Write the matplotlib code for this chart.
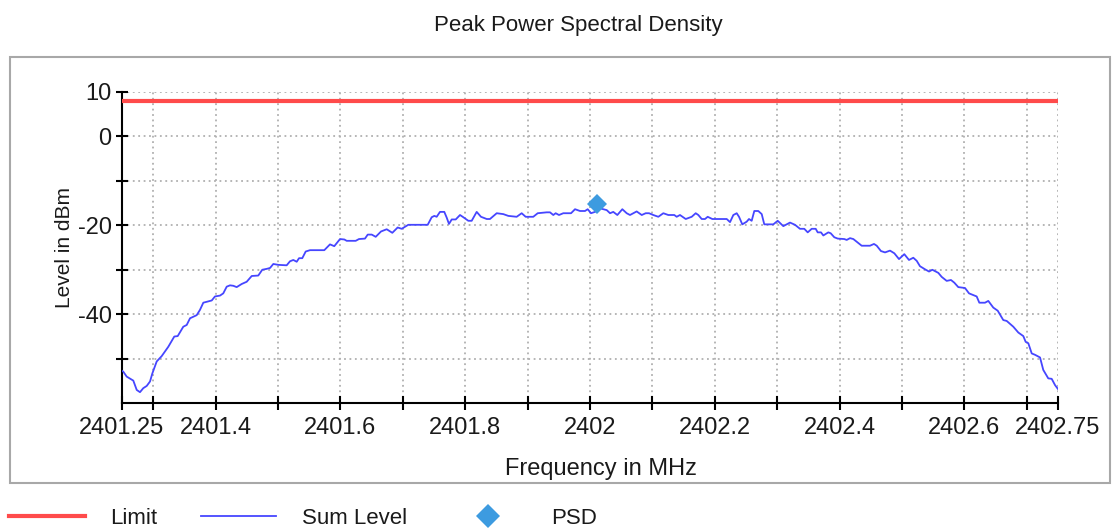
"""
Peak Power Spectral Density plot (limit line, summed level trace, PSD peak marker).
"""

import matplotlib
matplotlib.use("Agg")
import matplotlib.pyplot as plt
from matplotlib.lines import Line2D
from matplotlib.patches import Rectangle

# --- data ---
freq_mhz = [
    2401.2500, 2401.2521, 2401.2575, 2401.2681, 2401.2736, 2401.2788, 2401.2841,
    2401.2896, 2401.2949, 2401.2986, 2401.3056, 2401.3136, 2401.3242, 2401.3338,
    2401.3393, 2401.3482, 2401.3537, 2401.3590, 2401.3697, 2401.3750, 2401.3803,
    2401.3883, 2401.3938, 2401.3990, 2401.4071, 2401.4123, 2401.4178, 2401.4231,
    2401.4284, 2401.4338, 2401.4418, 2401.4498, 2401.4579, 2401.4684, 2401.4748,
    2401.4819, 2401.4872, 2401.4925, 2401.5005, 2401.5139, 2401.5192, 2401.5245,
    2401.5300, 2401.5337, 2401.5389, 2401.5444, 2401.5513, 2401.5742, 2401.5833,
    2401.5902, 2401.5994, 2401.6063, 2401.6101, 2401.6245, 2401.6298, 2401.6394,
    2401.6438, 2401.6502, 2401.6566, 2401.6651, 2401.6742, 2401.6832, 2401.6918,
    2401.6982, 2401.7088, 2401.7399, 2401.7463, 2401.7505, 2401.7543, 2401.7596,
    2401.7665, 2401.7704, 2401.7740, 2401.7784, 2401.7848, 2401.7917, 2401.7970,
    2401.8050, 2401.8104, 2401.8184, 2401.8253, 2401.8345, 2401.8397, 2401.8505,
    2401.8611, 2401.8691, 2401.8825, 2401.8905, 2401.8969, 2401.9091, 2401.9162,
    2401.9306, 2401.9359, 2401.9412, 2401.9450, 2401.9503, 2401.9572, 2401.9696,
    2401.9760, 2401.9840, 2401.9920, 2401.9963, 2402.0016, 2402.0080, 2402.0160,
    2402.0268, 2402.0321, 2402.0373, 2402.0438, 2402.0518, 2402.0588, 2402.0641,
    2402.0748, 2402.0829, 2402.0893, 2402.0946, 2402.1014, 2402.1095, 2402.1175,
    2402.1255, 2402.1351, 2402.1389, 2402.1442, 2402.1534, 2402.1630, 2402.1694,
    2402.1736, 2402.1790, 2402.1843, 2402.1886, 2402.1960, 2402.2191, 2402.2244,
    2402.2297, 2402.2351, 2402.2388, 2402.2441, 2402.2511, 2402.2548, 2402.2591,
    2402.2633, 2402.2697, 2402.2752, 2402.2793, 2402.2938, 2402.3008, 2402.3098,
    2402.3205, 2402.3285, 2402.3365, 2402.3434, 2402.3489, 2402.3553, 2402.3617,
    2402.3649, 2402.3702, 2402.3739, 2402.3819, 2402.3857, 2402.3915, 2402.3970,
    2402.4075, 2402.4114, 2402.4167, 2402.4220, 2402.4354, 2402.4487, 2402.4551,
    2402.4595, 2402.4663, 2402.4728, 2402.4808, 2402.4877, 2402.4952, 2402.5037,
    2402.5112, 2402.5181, 2402.5236, 2402.5288, 2402.5369, 2402.5433, 2402.5486,
    2402.5582, 2402.5636, 2402.5716, 2402.5785, 2402.5838, 2402.5902, 2402.6010,
    2402.6074, 2402.6197, 2402.6239, 2402.6330, 2402.6383, 2402.6463, 2402.6534,
    2402.6623, 2402.6678, 2402.6784, 2402.6864, 2402.6944, 2402.6982, 2402.7024,
    2402.7079, 2402.7131, 2402.7212, 2402.7264, 2402.7344, 2402.7399, 2402.7452,
    2402.7500,
]
sum_level_dbm = [
    -52.7, -52.9, -54.0, -54.9, -57.0, -57.5, -56.6,
    -56.1, -55.1, -53.3, -50.6, -49.4, -47.3, -45.0,
    -44.9, -42.8, -42.4, -40.9, -40.2, -39.0, -37.4,
    -37.1, -36.9, -36.0, -35.8, -35.3, -33.8, -33.5,
    -33.6, -33.9, -33.2, -32.7, -31.4, -31.3, -30.0,
    -29.8, -29.6, -28.7, -28.9, -29.0, -28.1, -27.8,
    -28.2, -27.4, -27.4, -25.9, -25.6, -25.6, -24.3,
    -24.7, -23.1, -23.2, -23.5, -23.5, -23.1, -23.0,
    -22.1, -22.1, -22.6, -21.4, -20.9, -21.7, -20.5,
    -20.8, -19.9, -19.9, -18.2, -17.9, -18.1, -17.0,
    -17.0, -18.3, -19.7, -18.7, -18.7, -17.7, -18.2,
    -19.0, -19.0, -17.0, -18.1, -18.6, -18.6, -17.3,
    -17.5, -17.9, -18.1, -17.3, -18.1, -18.1, -17.3,
    -17.1, -17.1, -17.7, -17.3, -17.7, -17.3, -17.3,
    -16.4, -16.8, -16.8, -16.4, -17.3, -17.0, -16.2,
    -16.6, -17.3, -17.0, -17.7, -16.4, -17.3, -17.7,
    -16.9, -17.7, -17.3, -17.3, -17.7, -18.1, -17.3,
    -17.7, -17.7, -18.1, -17.7, -18.6, -18.1, -17.3,
    -17.7, -18.6, -18.6, -18.1, -18.6, -18.6, -19.3,
    -17.7, -17.3, -18.1, -19.8, -19.2, -18.6, -19.0,
    -16.8, -16.8, -17.5, -19.8, -19.8, -19.0, -20.2,
    -19.4, -19.9, -20.8, -20.8, -21.6, -20.8, -20.8,
    -21.6, -21.6, -22.3, -21.6, -21.8, -22.7, -23.0,
    -23.1, -23.3, -22.9, -23.1, -24.6, -24.6, -24.2,
    -24.6, -25.8, -26.1, -25.7, -26.3, -27.6, -26.5,
    -27.8, -27.3, -28.0, -29.2, -29.9, -30.4, -30.0,
    -30.7, -31.6, -32.5, -32.3, -32.9, -33.9, -34.1,
    -35.3, -36.0, -37.4, -37.4, -37.0, -38.5, -39.2,
    -41.3, -41.5, -42.8, -44.1, -44.9, -46.2, -46.5,
    -48.8, -49.1, -49.7, -52.5, -54.4, -54.5, -55.9,
    -56.8,
]
limit_dbm = 8.0
psd_freq = 2402.011
psd_dbm = -15.2

x_ticks = [2401.25, 2401.3, 2401.4, 2401.5, 2401.6, 2401.7, 2401.8, 2401.9, 2402.0,
           2402.1, 2402.2, 2402.3, 2402.4, 2402.5, 2402.6, 2402.7, 2402.75]
x_tick_labels = ["2401.25", "", "2401.4", "", "2401.6", "", "2401.8", "", "2402",
                 "", "2402.2", "", "2402.4", "", "2402.6", "", "2402.75"]
y_ticks = [10, 0, -10, -20, -30, -40, -50]
y_tick_labels = ["10", "0", "", "-20", "", "-40", ""]

LIMIT_COLOR = "#ff4b4b"
SUM_COLOR = "#4646ff"
PSD_COLOR = "#3d9be0"
GRID_COLOR = "#b0b0b0"
TEXT_COLOR = "#1a1a1a"

plt.rcParams["font.family"] = ["Liberation Sans", "DejaVu Sans"]

W, H = 1115, 530
fig = plt.figure(figsize=(W / 100, H / 100), dpi=100)

# grey frame around the plot block
fig.patches.append(Rectangle((9.5 / W, 1 - 483 / H), (1110 - 9.5) / W, (483 - 57) / H,
                             transform=fig.transFigure, fill=False,
                             edgecolor="#a8a8a8", linewidth=1.5))

ax = fig.add_axes([122 / W, 1 - 403.3 / H, 936 / W, (403.3 - 91.7) / H])

ax.axhline(limit_dbm, color=LIMIT_COLOR, linewidth=3.0, zorder=3)
ax.plot(freq_mhz, sum_level_dbm, color=SUM_COLOR, linewidth=1.3, zorder=4)
ax.plot([psd_freq], [psd_dbm], linestyle="none", marker="D", markersize=10.5,
        color=PSD_COLOR, markeredgewidth=0, zorder=5)

ax.set_xlim(2401.25, 2402.75)
ax.set_ylim(-60, 10)

ax.set_xticks(x_ticks)
ax.set_xticklabels(x_tick_labels)
ax.set_yticks(y_ticks)
ax.set_yticklabels(y_tick_labels)

ax.grid(True, color=GRID_COLOR, linestyle=(0, (1, 2)), linewidth=1.3)
ax.set_axisbelow(True)

for side in ("top", "right"):
    ax.spines[side].set_visible(False)
for side in ("left", "bottom"):
    ax.spines[side].set_linewidth(1.5)
    ax.spines[side].set_color("black")

ax.tick_params(axis="x", direction="inout", length=10, width=1.5, pad=5,
               labelsize=17, labelcolor=TEXT_COLOR)
ax.tick_params(axis="y", direction="inout", length=9, width=1.5, pad=3,
               labelsize=17, labelcolor=TEXT_COLOR)

ax.set_xlabel("Frequency in MHz", fontsize=17, color=TEXT_COLOR)
ax.set_ylabel("Level in dBm", fontsize=15, color=TEXT_COLOR)
ax.xaxis.set_label_coords(0.512, -0.175)
ax.yaxis.set_label_coords(-0.051, 0.5)

fig.text(578 / W, 1 - 25 / H, "Peak Power Spectral Density", ha="center", va="center",
         fontsize=16, color=TEXT_COLOR)

handles = [
    Line2D([], [], color=LIMIT_COLOR, linewidth=3.0),
    Line2D([], [], color=SUM_COLOR, linewidth=1.3),
    Line2D([], [], linestyle="none", marker="D", markersize=12, color=PSD_COLOR,
           markeredgewidth=0),
]
fig.legend(handles, ["Limit", "Sum Level", "PSD"], loc="center left",
           bbox_to_anchor=(9 / W, 1 - 518 / H), ncol=3, frameon=False,
           fontsize=16, handlelength=3.4, handletextpad=1.15, columnspacing=1.95,
           borderpad=0, borderaxespad=0, labelcolor=TEXT_COLOR)

fig.savefig("out.png", dpi=100)
